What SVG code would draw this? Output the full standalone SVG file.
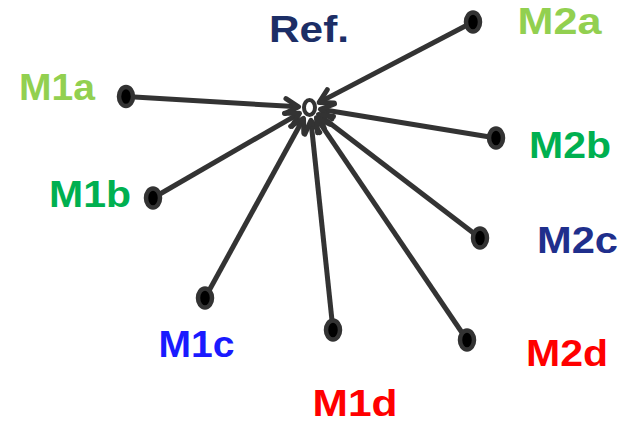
<svg xmlns="http://www.w3.org/2000/svg" width="623" height="424" viewBox="0 0 623 424">
  <style>
    .link { stroke: #333333; stroke-width: 5; fill: none; marker-end: url(#head); }
    .dot { fill: #000000; stroke: #333333; stroke-width: 4.5; }
    .hub { fill: #ffffff; stroke: #333333; stroke-width: 4; }
    .lbl { font-family: "Liberation Sans", Arial, sans-serif; font-weight: bold; font-size: 37px; text-anchor: middle; }
  </style>
  <defs>
    <marker id="head" markerUnits="userSpaceOnUse" markerWidth="40" markerHeight="40" refX="0" refY="0" orient="auto" overflow="visible" viewBox="-20 -20 40 40">
      <path d="M -13 -7.5 L 0 0 L -13 7.5" fill="none" stroke="#333333" stroke-width="5" stroke-linecap="round" stroke-linejoin="round"/>
    </marker>
  </defs>
  <rect width="623" height="424" fill="#ffffff"/>

  <!-- connectors: each satellite points into the reference hub -->
  <g id="connectors">
    <line class="link" x1="473" y1="22" x2="319.2" y2="102.4"/>
    <line class="link" x1="126" y1="96.5" x2="298.5" y2="106.8"/>
    <line class="link" x1="496" y1="138" x2="320.4" y2="109.3"/>
    <line class="link" x1="153" y1="198" x2="299.5" y2="113.3"/>
    <line class="link" x1="480" y1="238" x2="318.6" y2="114.5"/>
    <line class="link" x1="205" y1="298" x2="303.5" y2="118.5"/>
    <line class="link" x1="333" y1="330" x2="310.9" y2="120.4"/>
    <line class="link" x1="467" y1="340" x2="316.5" y2="117.8"/>
  </g>

  <g id="ref">
    <ellipse class="hub" cx="309.5" cy="107.5" rx="5.5" ry="7.5"/>
    <text class="lbl" x="309" y="42" fill="#1c2e66" textLength="80" lengthAdjust="spacingAndGlyphs">Ref.</text>
  </g>
  <g id="m2a">
    <ellipse class="dot" cx="473" cy="22" rx="7" ry="9.5"/>
    <text class="lbl" x="559.5" y="34" fill="#92d050" textLength="84" lengthAdjust="spacingAndGlyphs">M2a</text>
  </g>
  <g id="m1a">
    <ellipse class="dot" cx="126" cy="96.5" rx="7" ry="9.5"/>
    <text class="lbl" x="57" y="100" fill="#92d050" textLength="76" lengthAdjust="spacingAndGlyphs">M1a</text>
  </g>
  <g id="m2b">
    <ellipse class="dot" cx="496" cy="138" rx="7" ry="9.5"/>
    <text class="lbl" x="570" y="158" fill="#00b050" textLength="82" lengthAdjust="spacingAndGlyphs">M2b</text>
  </g>
  <g id="m1b">
    <ellipse class="dot" cx="153" cy="198" rx="7" ry="9.5"/>
    <text class="lbl" x="90" y="207" fill="#00b050" textLength="82" lengthAdjust="spacingAndGlyphs">M1b</text>
  </g>
  <g id="m2c">
    <ellipse class="dot" cx="480" cy="238" rx="7" ry="9.5"/>
    <text class="lbl" x="577.5" y="253" fill="#1f2f8c" textLength="81" lengthAdjust="spacingAndGlyphs">M2c</text>
  </g>
  <g id="m1c">
    <ellipse class="dot" cx="205" cy="298" rx="7" ry="9.5"/>
    <text class="lbl" x="196.5" y="357" fill="#1a1aff" textLength="76" lengthAdjust="spacingAndGlyphs">M1c</text>
  </g>
  <g id="m1d">
    <ellipse class="dot" cx="333" cy="330" rx="7" ry="9.5"/>
    <text class="lbl" x="355" y="415.5" fill="#ff0000" textLength="85" lengthAdjust="spacingAndGlyphs">M1d</text>
  </g>
  <g id="m2d">
    <ellipse class="dot" cx="467" cy="340" rx="7" ry="9.5"/>
    <text class="lbl" x="567" y="366" fill="#ff0000" textLength="82" lengthAdjust="spacingAndGlyphs">M2d</text>
  </g>
</svg>
